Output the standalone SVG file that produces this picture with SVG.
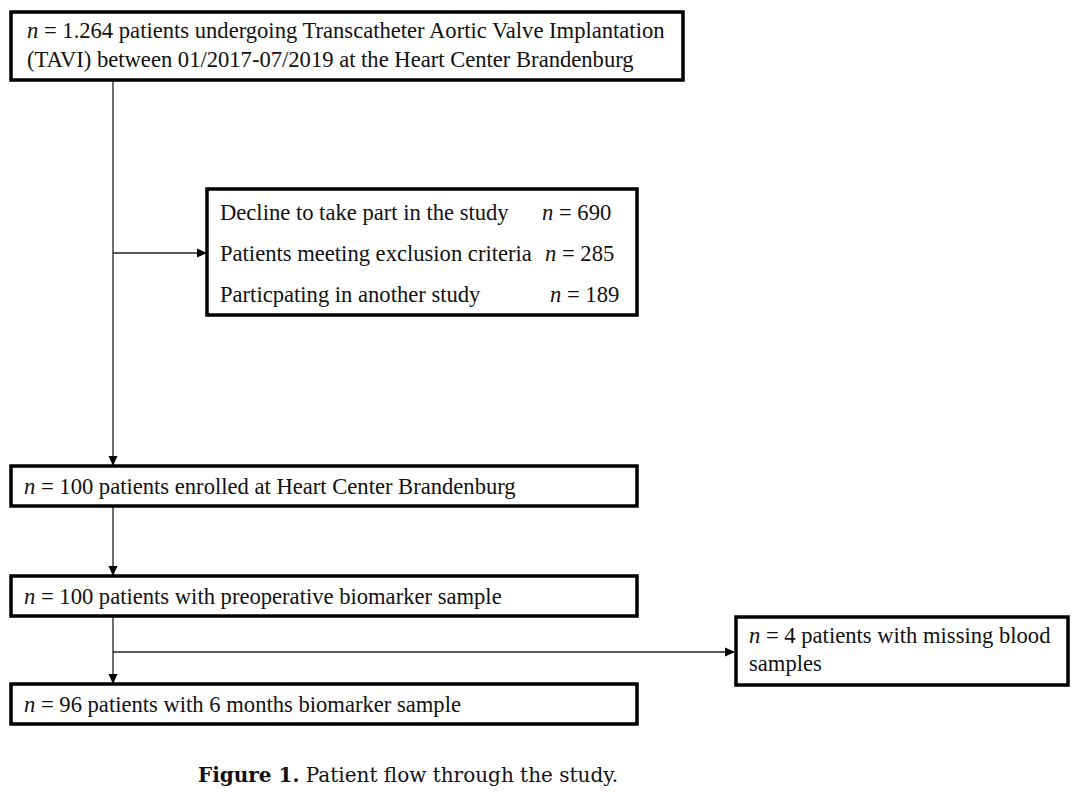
<svg xmlns="http://www.w3.org/2000/svg" width="1080" height="802" viewBox="0 0 1080 802">
<defs>
<marker id="ah" markerWidth="10" markerHeight="10" refX="9" refY="5" orient="auto" markerUnits="userSpaceOnUse">
<path d="M0,0.5 L10,5 L0,9.5 z" fill="#000"/>
</marker>
<style>
.box{fill:#fff;stroke:#000;stroke-width:3.5}
.t{font-family:"Liberation Serif","Times New Roman",serif;font-size:22.6px;fill:#111}
.cap{font-family:"DejaVu Serif","Liberation Serif",serif;font-size:20px;fill:#111}
.ln{fill:none;stroke:#222;stroke-width:1.3}
</style>
</defs>
<rect width="1080" height="802" fill="#fff"/>
<g id="connectors">
<line class="ln" x1="113" y1="80" x2="113" y2="465" marker-end="url(#ah)"/>
<line class="ln" x1="113" y1="253" x2="206" y2="253" marker-end="url(#ah)"/>
<line class="ln" x1="113" y1="506" x2="113" y2="575" marker-end="url(#ah)"/>
<line class="ln" x1="113" y1="616" x2="113" y2="683" marker-end="url(#ah)"/>
<line class="ln" x1="113" y1="652" x2="734" y2="652" marker-end="url(#ah)"/>
</g>
<g id="n1">
<rect class="box" x="11" y="12" width="672" height="68"/>
<text class="t" x="27" y="38"><tspan font-style="italic">n</tspan> = 1.264 patients undergoing Transcatheter Aortic Valve Implantation</text>
<text class="t" x="27" y="67">(TAVI) between 01/2017-07/2019 at the Heart Center Brandenburg</text>
</g>
<g id="n2">
<rect class="box" x="207" y="189" width="430" height="126"/>
<text class="t" x="220" y="220">Decline to take part in the study</text>
<text class="t" x="542" y="220"><tspan font-style="italic">n</tspan> = 690</text>
<text class="t" x="220" y="261">Patients meeting exclusion criteria</text>
<text class="t" x="545" y="261"><tspan font-style="italic">n</tspan> = 285</text>
<text class="t" x="220" y="302">Particpating in another study</text>
<text class="t" x="550" y="302"><tspan font-style="italic">n</tspan> = 189</text>
</g>
<g id="n3">
<rect class="box" x="11" y="466" width="626" height="40"/>
<text class="t" x="24" y="494"><tspan font-style="italic">n</tspan> = 100 patients enrolled at Heart Center Brandenburg</text>
</g>
<g id="n4">
<rect class="box" x="11" y="576" width="626" height="40"/>
<text class="t" x="24" y="604"><tspan font-style="italic">n</tspan> = 100 patients with preoperative biomarker sample</text>
</g>
<g id="n5">
<rect class="box" x="736" y="617" width="332" height="68"/>
<text class="t" x="749" y="643"><tspan font-style="italic">n</tspan> = 4 patients with missing blood</text>
<text class="t" x="749" y="671">samples</text>
</g>
<g id="n6">
<rect class="box" x="11" y="684" width="626" height="40"/>
<text class="t" x="24" y="712"><tspan font-style="italic">n</tspan> = 96 patients with 6 months biomarker sample</text>
</g>
<g id="caption">
<text class="cap" x="198" y="782"><tspan font-weight="bold">Figure 1.</tspan> Patient flow through the study.</text>
</g>
</svg>
